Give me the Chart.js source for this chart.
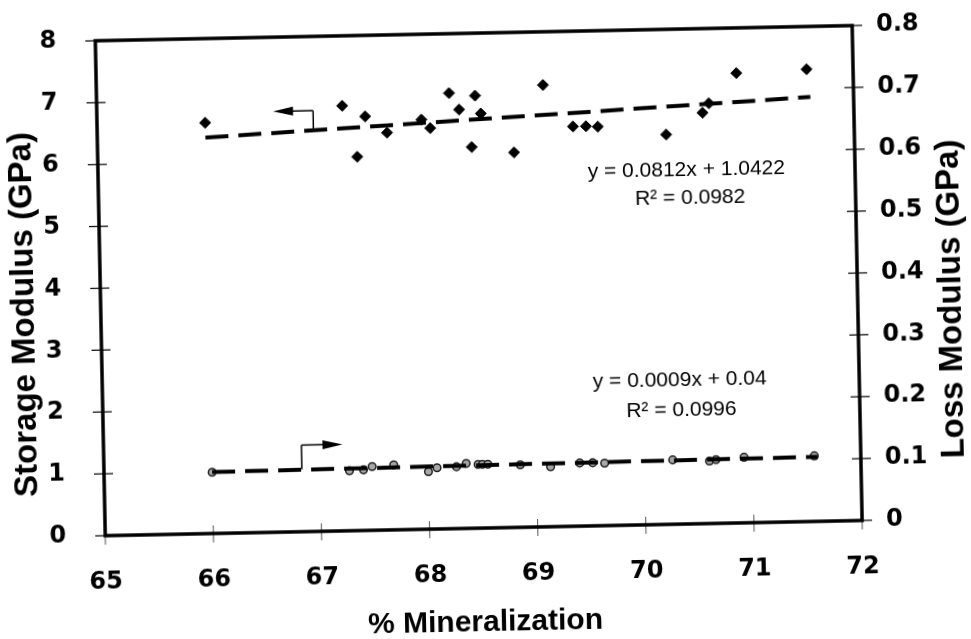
<!DOCTYPE html>
<html>
<head>
<meta charset="utf-8">
<script src="https://cdn.jsdelivr.net/npm/chart.js@4.4.1/dist/chart.umd.min.js"></script>
<style>
  html, body { margin: 0; padding: 0; background: #fff; }
  #wrap { width: 971px; height: 639px; transform: rotate(-1.15deg); }
</style>
</head>
<body>
<div id="wrap"><canvas id="graph-1" width="971" height="639"></canvas></div>
<script>
// % mineralization of each specimen
const mineral = [66.0, 67.27, 67.4, 67.48, 67.68, 68.0, 68.08, 68.26, 68.35, 68.46, 68.5,
                 68.55, 68.85, 69.13, 69.4, 69.52, 69.63, 70.26, 70.6, 70.66, 70.92, 71.57];
// storage modulus (GPa), left axis
const storage = [6.64, 6.87, 6.04, 6.69, 6.42, 6.62, 6.48, 7.04, 6.77, 6.16, 6.99,
                 6.70, 6.06, 7.14, 6.46, 6.46, 6.45, 6.30, 6.64, 6.79, 7.27, 7.31];
// loss modulus (GPa), right axis
const loss = [0.099, 0.097, 0.098, 0.103, 0.105, 0.093, 0.099, 0.100, 0.105, 0.103, 0.103,
              0.103, 0.101, 0.097, 0.102, 0.102, 0.101, 0.104, 0.101, 0.103, 0.106, 0.106];

// trend line end points
const storageFitX = [66.0, 71.6];
const storageFitY = [6.40, 6.86];
const lossFitX = [66.0, 71.6];
const lossFitY = [0.0994, 0.1044];

const xTicks = [65, 66, 67, 68, 69, 70, 71, 72];
const storageTicks = [0, 1, 2, 3, 4, 5, 6, 7, 8];
const lossTicks = [0, 0.1, 0.2, 0.3, 0.4, 0.5, 0.6, 0.7, 0.8];

const storageEq = ["y = 0.0812x + 1.0422", "R² = 0.0982"];
const lossEq = ["y = 0.0009x + 0.04", "R² = 0.0996"];

const FONT = "'Liberation Sans', Arial, sans-serif";
const NUMFONT = "'DejaVu Sans', 'Liberation Sans', sans-serif";

function pts(xs, ys) {
    return xs.map((v, i) => ({ x: v, y: ys[i] }));
}

function line(ctx, x1, y1, x2, y2) {
    ctx.beginPath();
    ctx.moveTo(x1, y1);
    ctx.lineTo(x2, y2);
    ctx.stroke();
}

function arrowHead(ctx, tipX, tipY, dir) {
    ctx.beginPath();
    ctx.moveTo(tipX, tipY);
    ctx.lineTo(tipX - dir * 20, tipY - 4.5);
    ctx.lineTo(tipX - dir * 20, tipY + 4.5);
    ctx.closePath();
    ctx.fill();
}

function vText(ctx, text, cx, cy, size) {
    ctx.save();
    ctx.translate(cx, cy);
    ctx.rotate(-Math.PI / 2);
    ctx.font = "bold " + size + "px " + FONT;
    ctx.fillText(text, 0, 0);
    ctx.restore();
}

// frame, tick marks, arrows, equations and axis titles
const extras = {
    id: "extras",
    afterDatasetsDraw(chart) {
        const { ctx, chartArea: a, scales } = chart;
        const { x, y, y2 } = scales;
        ctx.save();
        ctx.strokeStyle = "#000";
        ctx.fillStyle = "#000";

        ctx.lineWidth = 1.2;
        storageTicks.forEach(v => {
            const py = y.getPixelForValue(v);
            line(ctx, a.left - 10, py, a.left + 9, py);
        });
        lossTicks.forEach(v => {
            const py = y2.getPixelForValue(v);
            line(ctx, a.right - 9, py, a.right + 10, py);
        });
        ctx.strokeStyle = "#555";
        ctx.lineWidth = 1;
        xTicks.forEach(v => {
            const px = x.getPixelForValue(v);
            line(ctx, px, a.bottom - 8, px, a.bottom + 9);
        });

        ctx.strokeStyle = "#000";
        ctx.lineWidth = 3.5;
        ctx.strokeRect(a.left, a.top, a.right - a.left, a.bottom - a.top);

        // arrow pointing to the left axis
        ctx.lineWidth = 1.5;
        let bx = x.getPixelForValue(67.0);
        let by0 = y.getPixelForValue(6.48);
        let by1 = y.getPixelForValue(6.80);
        let tip = x.getPixelForValue(66.63);
        line(ctx, bx, by0, bx, by1);
        line(ctx, bx, by1, tip + 10, by1);
        arrowHead(ctx, tip, by1, -1);

        // arrow pointing to the right axis
        bx = x.getPixelForValue(66.83);
        by0 = y2.getPixelForValue(0.101);
        by1 = y2.getPixelForValue(0.140);
        tip = x.getPixelForValue(67.21);
        line(ctx, bx, by0, bx, by1);
        line(ctx, bx, by1, tip - 10, by1);
        arrowHead(ctx, tip, by1, 1);

        ctx.font = "21px " + FONT;
        ctx.textAlign = "center";
        ctx.textBaseline = "middle";
        ctx.fillText(storageEq[0], x.getPixelForValue(70.44), y.getPixelForValue(5.72));
        ctx.fillText(storageEq[1], x.getPixelForValue(70.47), y.getPixelForValue(5.27));
        ctx.fillText(lossEq[0], x.getPixelForValue(70.34), y.getPixelForValue(2.33));
        ctx.fillText(lossEq[1], x.getPixelForValue(70.35), y.getPixelForValue(1.84));

        // axis titles
        vText(ctx, "Storage Modulus (GPa)", 25, y.getPixelForValue(3.6), 33);
        vText(ctx, "Loss Modulus (GPa)", 952, y.getPixelForValue(3.55), 33);
        ctx.font = "bold 30px " + FONT;
        ctx.fillText("% Mineralization", x.getPixelForValue(68.5), x.bottom - 16);
        ctx.restore();
    }
};

const tickFont = { family: NUMFONT, size: 24, weight: "bold" };
const hidden = "rgba(0,0,0,0)";

new Chart(document.getElementById("graph-1").getContext("2d"), {
    type: "scatter",
    data: {
        datasets: [
            {
                label: "Storage",
                data: pts(mineral, storage),
                yAxisID: "y",
                pointStyle: "rectRot",
                pointRadius: 5.5,
                backgroundColor: "#000",
                borderColor: "#000",
                borderWidth: 1,
                order: 2
            },
            {
                label: "Loss",
                data: pts(mineral, loss),
                yAxisID: "y2",
                pointStyle: "circle",
                pointRadius: 3.8,
                backgroundColor: "#a8a8a8",
                borderColor: "#222",
                borderWidth: 1.5,
                order: 2
            },
            {
                label: "Storage fit",
                data: pts(storageFitX, storageFitY),
                yAxisID: "y",
                showLine: true,
                pointRadius: 0,
                borderColor: "#000",
                borderWidth: 4,
                borderDash: [23, 10],
                order: 1
            },
            {
                label: "Loss fit",
                data: pts(lossFitX, lossFitY),
                yAxisID: "y2",
                showLine: true,
                pointRadius: 0,
                borderColor: "#000",
                borderWidth: 4,
                borderDash: [23, 10],
                order: 1
            }
        ]
    },
    options: {
        responsive: false,
        animation: false,
        layout: { padding: { top: 33, left: 0, right: 0, bottom: 0 } },
        plugins: {
            legend: { display: false },
            tooltip: { enabled: false }
        },
        scales: {
            x: {
                type: "linear",
                min: 65,
                max: 72,
                afterFit: s => { s.height = 111; },
                afterBuildTicks: s => { s.ticks = xTicks.map(v => ({ value: v })); },
                ticks: { font: tickFont, color: "#000", padding: 23 },
                grid: { drawOnChartArea: false, tickLength: 9, color: hidden },
                border: { display: false }
            },
            y: {
                position: "left",
                min: 0,
                max: 8,
                afterFit: s => { s.width = 101; },
                afterBuildTicks: s => { s.ticks = storageTicks.map(v => ({ value: v })); },
                ticks: { font: tickFont, color: "#000", padding: 0 },
                grid: { drawOnChartArea: false, tickLength: 39, color: hidden },
                border: { display: false }
            },
            y2: {
                position: "right",
                min: 0,
                max: 0.8,
                afterFit: s => { s.width = 113; },
                afterBuildTicks: s => { s.ticks = lossTicks.map(v => ({ value: v })); },
                ticks: { font: tickFont, color: "#000", padding: 0 },
                grid: { drawOnChartArea: false, tickLength: 24, color: hidden },
                border: { display: false }
            }
        }
    },
    plugins: [extras]
});
</script>
</body>
</html>
